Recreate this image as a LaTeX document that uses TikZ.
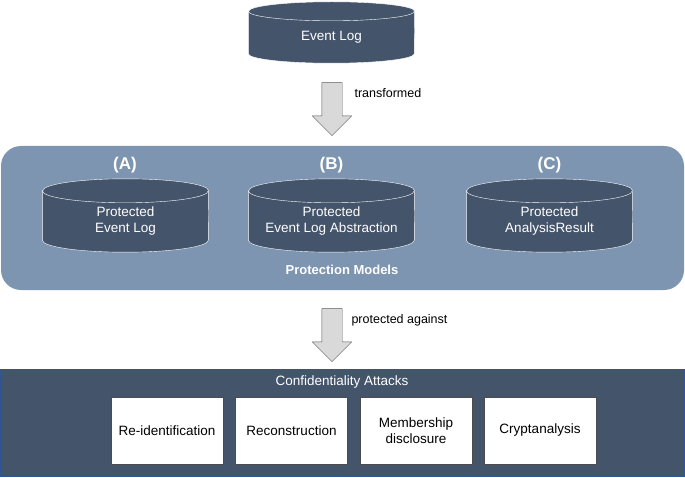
\documentclass[tikz,border=0pt]{standalone}
\usepackage{fontspec}
\setmainfont{Liberation Sans}
\usetikzlibrary{shapes.arrows}
\definecolor{navy}{HTML}{44546A}
\definecolor{steel}{HTML}{7D95B0}
\definecolor{arrowgray}{HTML}{D9D9D9}
\definecolor{edgeblue}{HTML}{2F5597}
\pgfdeclarelayer{back}
\pgfdeclarelayer{mid}
\pgfsetlayers{back,mid,main}
% cylinder body round a node: #1 node, #2 y radius of the ends
\newcommand{\drum}[2]{%
  \draw[white, fill=navy] (#1.north west) -- ([yshift=#2]#1.south west)
    arc[start angle=180, end angle=360, x radius=83, y radius=#2]
    -- (#1.north east) arc[start angle=0, end angle=180, x radius=83, y radius=#2] -- cycle;
  \draw[white] (#1.north west) arc[start angle=180, end angle=360, x radius=83, y radius=#2];
}
\tikzset{
  db/.style={rectangle, text=white, align=center, minimum width=166, minimum height=61,
    inner sep=0, font=\fontsize{13.5}{16}\selectfont},
  bigarrow/.style={single arrow, rotate=-90, draw=black!65, fill=arrowgray,
    minimum height=53, inner xsep=0, inner ysep=10, single arrow head extend=9.5},
  attack/.style={rectangle, draw=black!70, fill=white, align=center,
    minimum width=112, minimum height=67, font=\fontsize{13.5}{16}\selectfont},
  tag/.style={text=white, font=\bfseries\fontsize{17}{20}\selectfont},
  note/.style={anchor=west, font=\fontsize{12.5}{15}\selectfont}
}
\begin{document}
\begin{tikzpicture}[x=1pt,y=1pt]
\useasboundingbox (0,0) rectangle (685,477);
\begin{pgfonlayer}{back}
\node[rectangle, rounded corners=20, fill=steel, minimum width=683, minimum height=144] (prot) at (342.5,259){};
\node[rectangle, draw=edgeblue, line width=1, fill=navy, minimum width=684, minimum height=107] (conf) at (342.5,54.5){};
\end{pgfonlayer}
\node[db, minimum height=51.5] (evlog) at (331.5,439.75){Event Log};
\node[bigarrow] (arr1) at (332,373){};
\node[note] (trans) at (351,384){transformed};
\node[tag] (tagA) at (125,312){(A)};
\node[tag] (tagB) at (331.5,312){(B)};
\node[tag] (tagC) at (549.5,312){(C)};
\node[db] (pelog) at (125.5,255.5){Protected\\Event Log};
\node[db] (pabs) at (331.5,255.5){Protected\\Event Log Abstraction};
\node[db] (pres) at (549.5,255.5){Protected\\AnalysisResult};
\node[text=white, font=\bfseries\fontsize{13}{15}\selectfont] (pmod) at (342,207){Protection Models};
\begin{pgfonlayer}{mid}
\drum{evlog}{9.5}
\drum{pelog}{12}
\drum{pabs}{12}
\drum{pres}{12}
\end{pgfonlayer}
\node[bigarrow] (arr2) at (332,147){};
\node[note] (against) at (348,157){protected against};
\node[text=white, font=\fontsize{13.5}{16}\selectfont] (ctitle) at (342,95){Confidentiality Attacks};
\node[attack] (reid) at (167,46.5){Re-identification};
\node[attack] (recon) at (291.5,46.5){Reconstruction};
\node[attack] (member) at (416,46.5){Membership\\disclosure};
\node[attack] (crypt) at (540,46.5){Cryptanalysis};
\end{tikzpicture}
\end{document}
